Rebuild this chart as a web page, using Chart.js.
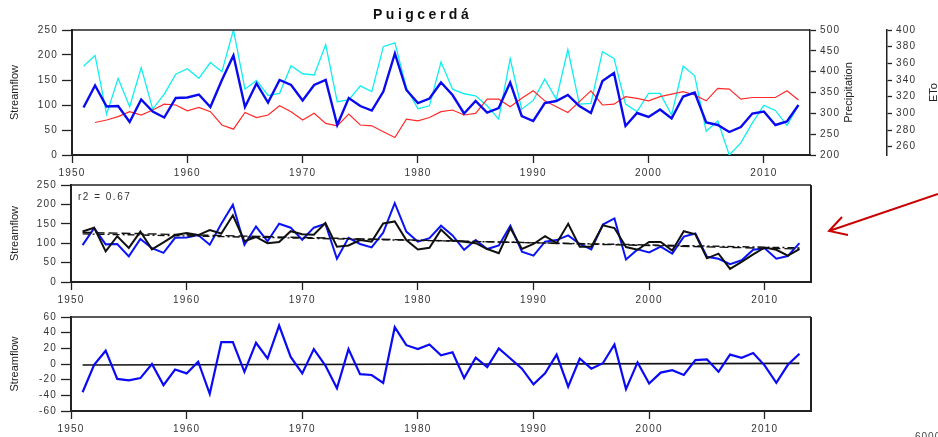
<!DOCTYPE html>
<html>
<head>
<meta charset="utf-8">
<script src="https://cdn.jsdelivr.net/npm/chart.js@4.4.0/dist/chart.umd.min.js"></script>
<style>
  html, body { margin: 0; padding: 0; background: #fff; overflow: hidden; }
  body { width: 938px; height: 437px; position: relative; font-family: "Liberation Sans", Arial, sans-serif; }
  canvas { position: absolute; left: 0; }
  #c1 { top: 0; }
  #c2 { top: 175px; }
  #c3 { top: 305px; }
  #title { position: absolute; left: 373px; top: 7px; font-weight: bold; font-size: 14px; line-height: 14px; letter-spacing: 3.5px; color: #111; }
  #cut { position: absolute; left: 915px; top: 431px; font-size: 10px; letter-spacing: 1px; color: #444; }
</style>
</head>
<body>
<canvas id="c1" width="938" height="185"></canvas>
<canvas id="c2" width="938" height="130"></canvas>
<canvas id="c3" width="938" height="132"></canvas>
<div id="title">Puigcerdá</div>
<div id="cut">6000</div>
<script>
/* global Chart */
(function () {
  "use strict";

  // ---------- Data ----------
  const YEARS = [
    1951, 1952, 1953, 1954, 1955, 1956, 1957, 1958, 1959, 1960,
    1961, 1962, 1963, 1964, 1965, 1966, 1967, 1968, 1969, 1970,
    1971, 1972, 1973, 1974, 1975, 1976, 1977, 1978, 1979, 1980,
    1981, 1982, 1983, 1984, 1985, 1986, 1987, 1988, 1989, 1990,
    1991, 1992, 1993, 1994, 1995, 1996, 1997, 1998, 1999, 2000,
    2001, 2002, 2003, 2004, 2005, 2006, 2007, 2008, 2009, 2010,
    2011, 2012, 2013,
  ];
  // observed streamflow
  const OBS = [
    95, 139, 97, 98, 66, 111, 87, 75, 114, 115,
    121, 96, 150, 199, 96, 143, 105, 150, 140, 109,
    140, 150, 60, 114, 98, 89, 127, 203, 130, 104,
    113, 145, 120, 83, 108, 85, 94, 145, 78, 68,
    104, 108, 120, 98, 84, 148, 164, 58, 84, 76,
    91, 73, 117, 125, 65, 60, 46, 56, 83, 87,
    60, 67, 100,
  ];
  // simulated streamflow
  const SIM = [
    130, 140, 79, 118, 88, 130, 84, 102, 121, 126,
    121, 134, 125, 172, 105, 116, 100, 103, 131, 123,
    122, 152, 91, 94, 108, 104, 151, 156, 108, 84,
    88, 135, 107, 104, 100, 85, 74, 139, 85, 98,
    118, 100, 150, 91, 91, 146, 139, 90, 83, 103,
    103, 81, 131, 123, 61, 73, 34, 52, 71, 89,
    83, 68, 85,
  ];
  const RESID = [
    -36, -1, 17, -19, -21, -18, 0, -27, -7, -12,
    3, -38, 28, 28, -10, 27, 7, 49, 9, -12,
    19, -2, -31, 19, -13, -14, -24, 47, 24, 19,
    25, 11, 15, -18, 8, -4, 20, 7, -6, -26,
    -12, 12, -29, 7, -6, 1, 25, -32, 2, -25,
    -11, -8, -14, 5, 6, -10, 12, 8, 14, -2,
    -24, -1, 13,
  ];
  const PRECIP = [
    413, 439, 298, 384, 316, 410, 310, 346, 394, 407,
    384, 422, 400, 500, 358, 379, 343, 348, 414, 395,
    392, 465, 328, 332, 366, 352, 460, 469, 361, 311,
    318, 423, 358, 347, 342, 318, 286, 431, 310, 331,
    382, 334, 453, 322, 324, 448, 432, 322, 304, 348,
    348, 296, 413, 390, 257, 282, 200, 229, 277, 319,
    307, 271, 319,
  ];
  const ETO = [
    null, 289, 292, 296, 302, 298, 304, 311, 310, 303,
    307, 302, 286, 281, 301, 295, 298, 309, 302, 292,
    300, 288, 285, 299, 286, 285, 278, 271, 293, 291,
    295, 302, 304, 298, 300, 317, 317, 308, 318, 327,
    315, 308, 301, 314, 327, 310, 311, 320, 318, 315,
    320, 323, 326, 322, 315, 330, 329, 317, 319, 319,
    319, 327, 316,
  ];
  // linear fits of observed / simulated
  const TREND_YEARS = [1951, 2013];
  const TREND_OBS = [128, 85];
  const TREND_SIM = [124, 88];
  const RES_LINE = [-1.2, 0.8];

  const X_RANGE = [1950, 2014];
  const X_TICKS = [1950, 1960, 1970, 1980, 1990, 2000, 2010];
  const FLOW_TICKS = [0, 50, 100, 150, 200, 250];
  const PRECIP_TICKS = [200, 250, 300, 350, 400, 450, 500];
  const ETO_TICKS = [260, 280, 300, 320, 340, 360, 380, 400];
  const RES_TICKS = [-60, -40, -20, 0, 20, 40, 60];

  // ---------- Helpers ----------
  const FAM = "'Liberation Sans', Arial, sans-serif";
  const FONT = { family: FAM, size: 10 };
  const INK = "#222";
  const pts = (xs, ys) => xs.map((x, i) => ({ x: x, y: ys[i] }));

  function line(data, color, width, extra) {
    return Object.assign({
      data: data,
      borderColor: color,
      borderWidth: width,
      pointRadius: 0,
      tension: 0,
      fill: false,
    }, extra || {});
  }

  function xAxis(h) {
    return {
      type: "linear",
      min: X_RANGE[0],
      max: X_RANGE[1],
      afterBuildTicks: (ax) => { ax.ticks = X_TICKS.map((v) => ({ value: v })); },
      afterFit: (ax) => { ax.height = h; },
      grid: { display: true, drawOnChartArea: false, drawTicks: true, tickLength: 8, tickWidth: 1.3, tickColor: INK },
      border: { display: true, color: INK, width: 2 },
      ticks: { font: FONT, color: "#333", padding: 4, maxRotation: 0, autoSkip: false, callback: (v) => String(v) },
    };
  }

  function yAxis(pos, min, max, ticks, w, tl, bw) {
    return {
      type: "linear",
      position: pos,
      min: min,
      max: max,
      afterBuildTicks: (ax) => { ax.ticks = ticks.map((v) => ({ value: v })); },
      afterFit: (ax) => { ax.width = w; },
      grid: { display: true, drawOnChartArea: false, drawTicks: true, tickLength: tl, tickWidth: 1.3, tickColor: INK },
      border: { display: true, color: INK, width: bw },
      ticks: { font: FONT, color: "#333", padding: 4, autoSkip: false, callback: (v) => String(v) },
    };
  }

  // tick labels are slightly spaced out
  const spacing = {
    id: "spacing",
    beforeLayout(c) { c.ctx.letterSpacing = "1.2px"; },
    beforeDraw(c) { c.ctx.letterSpacing = "1.2px"; },
  };

  // top / right edges of the plot box
  const frame = {
    id: "frame",
    afterDraw(c, args, o) {
      const ctx = c.ctx, a = c.chartArea;
      ctx.save();
      ctx.strokeStyle = INK;
      ctx.lineWidth = o.top || 1.3;
      ctx.beginPath();
      ctx.moveTo(a.left, a.top);
      ctx.lineTo(a.right, a.top);
      ctx.stroke();
      if (o.right) {
        ctx.lineWidth = o.right;
        ctx.beginPath();
        ctx.moveTo(a.right, a.top);
        ctx.lineTo(a.right, a.bottom);
        ctx.stroke();
      }
      ctx.restore();
    },
  };

  // rotated axis titles, reading bottom to top
  const titles = {
    id: "titles",
    afterDraw(c, args, o) {
      const ctx = c.ctx, a = c.chartArea;
      ctx.save();
      ctx.letterSpacing = "0px";
      ctx.font = "11px " + FAM;
      ctx.fillStyle = INK;
      ctx.textAlign = "center";
      ctx.textBaseline = "middle";
      (o.items || []).forEach((t) => {
        const s = c.scales[t.scale];
        ctx.save();
        ctx.translate(s.left + t.dx, (a.top + a.bottom) / 2);
        ctx.rotate(-Math.PI / 2);
        ctx.fillText(t.text, 0, 0);
        ctx.restore();
      });
      ctx.restore();
    },
  };

  const note = {
    id: "note",
    afterDraw(c, args, o) {
      if (!o.text) return;
      const ctx = c.ctx, a = c.chartArea;
      ctx.save();
      ctx.letterSpacing = "1.5px";
      ctx.font = "10px " + FAM;
      ctx.fillStyle = "#333";
      ctx.textBaseline = "middle";
      ctx.fillText(o.text, a.left + 7, a.top + 12);
      ctx.restore();
    },
  };

  const arrow = {
    id: "arrow",
    afterDraw(c, args, o) {
      if (!o.show) return;
      const ctx = c.ctx, a = c.chartArea;
      const tx = a.right + 18, ty = a.top + 46;
      ctx.save();
      ctx.strokeStyle = "#c80000";
      ctx.lineWidth = 2;
      ctx.beginPath();
      ctx.moveTo(c.width, a.top + 9);
      ctx.lineTo(tx, ty);
      ctx.moveTo(tx + 13, ty - 14);
      ctx.lineTo(tx, ty);
      ctx.lineTo(tx + 19, ty + 4);
      ctx.stroke();
      ctx.restore();
    },
  };

  const base = (pad) => ({
    responsive: false,
    animation: false,
    events: [],
    layout: { padding: pad },
    plugins: { legend: { display: false }, tooltip: { enabled: false } },
  });

  // ---------- Panel 1: flow, precipitation, ETo ----------
  const o1 = base({ top: 30, right: 0, bottom: 0, left: 0 });
  o1.scales = {
    x: xAxis(30),
    y: yAxis("left", 0, 250, FLOW_TICKS, 72, 10, 2),
    yP: yAxis("right", 200, 500, PRECIP_TICKS, 77, 6, 1.5),
    yE: yAxis("right", 250, 400, ETO_TICKS, 51, 5, 1.5),
  };
  o1.plugins.frame = { top: 1.3 };
  o1.plugins.titles = { items: [
    { scale: "y", text: "Streamflow", dx: 15 },
    { scale: "yP", text: "Precipitation", dx: 39 },
    { scale: "yE", text: "ETo", dx: 47 },
  ] };
  new Chart(document.getElementById("c1"), {
    type: "line",
    data: { datasets: [
      line(pts(YEARS, OBS), "#0a0af0", 2.4, { yAxisID: "y" }),
      line(pts(YEARS, ETO), "#ff2a2a", 1.2, { yAxisID: "yE" }),
      line(pts(YEARS, PRECIP), "#10eef0", 1.3, { yAxisID: "yP" }),
    ] },
    options: o1,
    plugins: [spacing, frame, titles],
  });

  // ---------- Panel 2: observed vs simulated ----------
  const o2 = base({ top: 8, right: 127, bottom: 0, left: 0 });
  o2.scales = { x: xAxis(23), y: yAxis("left", 0, 250, FLOW_TICKS, 71, 10, 2) };
  o2.plugins.frame = { top: 1.5, right: 2 };
  o2.plugins.titles = { items: [{ scale: "y", text: "Streamflow", dx: 15 }] };
  o2.plugins.note = { text: "r2 = 0.67" };
  o2.plugins.arrow = { show: true };
  new Chart(document.getElementById("c2"), {
    type: "line",
    data: { datasets: [
      line(pts(TREND_YEARS, TREND_OBS), "#111", 1.4, { borderDash: [9, 4] }),
      line(pts(TREND_YEARS, TREND_SIM), "#111", 1.4, { borderDash: [7, 3, 2, 3] }),
      line(pts(YEARS, SIM), "#111", 2),
      line(pts(YEARS, OBS), "#0a14f5", 2),
    ] },
    options: o2,
    plugins: [spacing, frame, titles, note, arrow],
  });

  // ---------- Panel 3: residuals ----------
  const o3 = base({ top: 12, right: 127, bottom: 0, left: 0 });
  o3.scales = { x: xAxis(26), y: yAxis("left", -60, 60, RES_TICKS, 71, 10, 2) };
  o3.plugins.frame = { top: 1.5, right: 2 };
  o3.plugins.titles = { items: [{ scale: "y", text: "Streamflow", dx: 15 }] };
  new Chart(document.getElementById("c3"), {
    type: "line",
    data: { datasets: [
      line(pts(YEARS, RESID), "#0a0af5", 2.2),
      line(pts(TREND_YEARS, RES_LINE), "#111", 1.6),
    ] },
    options: o3,
    plugins: [spacing, frame, titles],
  });
})();
</script>
</body>
</html>
